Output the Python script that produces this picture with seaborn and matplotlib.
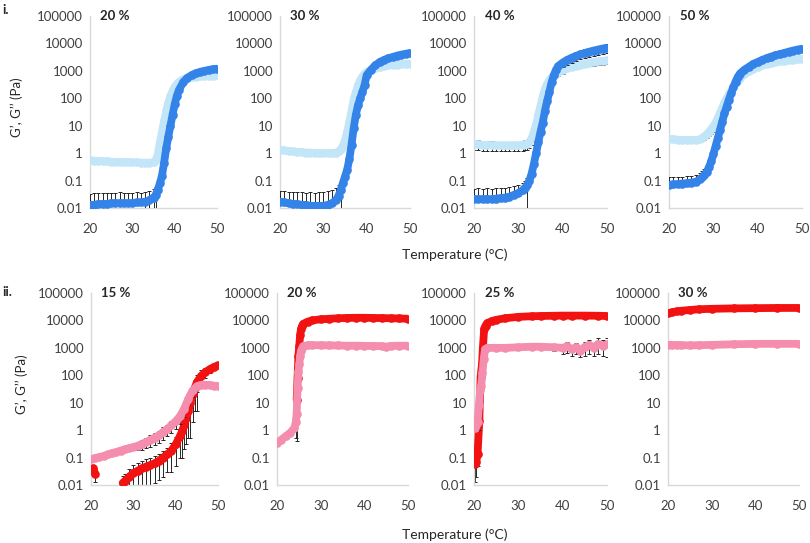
import numpy as np
import matplotlib
matplotlib.use("Agg")
import matplotlib.pyplot as plt
import seaborn as sns

# ---------------- data ----------------
# Row i : blue series (G' dark blue, G'' light blue)
T_i20 = [20,21,22,23,24,25,26,27,28,29,30,31,32,33,34,35,35.5,36,36.5,37,37.5,38,38.5,39,39.5,40,40.5,41,42,43,44,45,46,47,48,49,50]
Gp_i20 = [0.013,0.013,0.014,0.014,0.014,0.015,0.015,0.015,0.015,0.015,0.015,0.016,0.016,0.017,0.019,0.024,
          0.03,0.045,0.08,0.15,0.45,1.5,4,10,25,60,120,200,380,560,700,820,920,1000,1080,1150,1200]
Gp_err_i20 = [0.02,0.021,0.021,0.02,0.022,0.02,0.021,0.022,0.02,0.021,0.02,0.021,0.02,0.02,0.022,0.025,
              0.03,0.03,0.02,0,0,0,0,0,0,0,0,0,0,0,0,0,0,0,0,0,0]
Gp_errlo_i20 = [0,0,0,0,0,0,0,0,0,0,0,0,0,0.017,0.019,0.024,
                0.03,0,0,0,0,0,0,0,0,0,0,0,0,0,0,0,0,0,0,0,0]
Gpp_i20 = [0.55,0.53,0.52,0.5,0.5,0.49,0.48,0.48,0.47,0.47,0.46,0.46,0.45,0.45,0.45,0.46,
           0.55,0.9,2.5,6,15,35,70,120,190,260,330,400,500,560,600,620,640,650,660,670,680]
Gpp_err_i20 = [0,0,0,0,0,0,0,0,0,0,0,0,0,0,0,0,
               0.1,0.3,1,2,4,8,15,25,30,30,30,30,0,0,0,0,0,0,0,0,0]

T_i30 = [20,21,22,23,24,25,26,27,28,29,30,31,32,33,33.5,34,34.5,35,35.5,36,36.5,37,37.5,38,38.5,39,39.5,40,41,42,43,44,45,46,47,48,49,50]
Gp_i30 = [0.017,0.016,0.015,0.014,0.014,0.013,0.013,0.012,0.012,0.012,0.012,0.013,0.015,0.02,
          0.028,0.045,0.08,0.14,0.25,0.6,2,8,25,55,100,170,300,700,
          1100,1600,2100,2500,2900,3200,3600,3900,4200,4500]
Gp_err_i30 = [0.025,0.025,0.024,0.024,0.025,0.024,0.023,0.025,0.024,0.026,0.025,0.027,0.03,0.035,
              0.04,0.045,0.03,0.06,0.1,0.3,1,4,12,25,40,60,80,100,
              0,0,0,0,0,0,0,0,0,0]
Gp_errlo_i30 = [0,0,0,0,0,0,0,0,0,0,0,0,0,0,
                0,0.045,0,0,0,0,0,0,0,0,0,0,0,0,
                0,0,0,0,0,0,0,0,0,0]
Gpp_i30 = [1.3,1.25,1.2,1.15,1.1,1.1,1.05,1.05,1.0,1.0,1.0,1.0,1.0,1.05,
           1.15,1.4,1.8,3,6,14,35,90,170,300,450,620,780,900,
           1100,1250,1400,1500,1600,1650,1700,1750,1800,1850]
Gpp_err_i30 = [0,0,0,0,0,0,0,0,0,0,0,0,0,0,
               0.1,0.3,0.6,1,2,5,12,30,50,80,110,150,180,200,
               0,0,0,0,0,0,0,0,0,0]

T_i40 = [20,21,22,23,24,25,26,27,28,29,30,31,31.5,32,32.5,33,33.5,34,34.5,35,35.5,36,36.5,37,37.5,38,38.5,39,
         40,41,42,43,44,45,46,47,48,49,50]
Gp_i40 = [0.021,0.021,0.021,0.021,0.021,0.022,0.023,0.024,0.026,0.03,0.035,0.045,
          0.055,0.07,0.1,0.18,0.4,1.0,2.5,6,13,35,80,170,380,700,1100,1500,
          2000,2500,3000,3500,4000,4500,5000,5500,6000,6500,7000]
Gp_err_i40 = [0.03,0.032,0.03,0.031,0.03,0.032,0.03,0.031,0.03,0.032,0.035,0.04,
              0.045,0.05,0.06,0.1,0.2,0.4,1,2.5,5,12,30,60,120,200,300,400,
              600,800,1000,1200,1400,1600,1800,2000,2200,2300,2400]
Gp_errlo_i40 = [0,0,0,0,0,0,0,0,0,0,0,0,
                0,0.07,0,0,0,0,0,0,0,0,0,0,0,0,0,0,
                600,800,1000,1200,1400,1600,1800,2000,2200,2300,2400]
Gpp_i40 = [2.2,2.1,2.0,2.0,1.95,1.9,1.9,1.9,1.9,1.9,1.9,2.0,
           2.1,2.2,2.5,3.5,6,11,25,55,120,220,330,450,580,680,780,880,
           1050,1250,1400,1550,1700,1850,2000,2100,2200,2300,2400]
Gpp_err_i40 = [0.9,0.85,0.8,0.8,0.8,0.75,0.75,0.75,0.75,0.75,0.75,0.8,
               0.8,0.85,1,1.5,2.5,5,10,20,40,70,100,130,160,180,200,220,
               260,300,340,380,420,460,500,540,580,620,650]

T_i50 = [20,21,22,23,24,25,26,27,27.5,28,28.5,29,29.5,30,30.5,31,31.5,32,32.5,33,33.5,34,34.5,35,35.5,36,
         37,38,39,40,41,42,43,44,45,46,47,48,49,50]
Gp_i50 = [0.07,0.072,0.075,0.078,0.08,0.085,0.09,0.11,
          0.13,0.16,0.21,0.3,0.5,0.9,1.8,3.5,7,14,28,50,90,150,250,400,600,800,
          1100,1400,1800,2100,2500,2900,3300,3700,4100,4500,5000,5500,6000,6400]
Gp_err_i50 = [0.06,0.06,0.062,0.06,0.065,0.065,0.07,0.08,
              0.09,0.1,0.12,0.15,0.25,0.4,0.7,1.2,2,4,8,15,25,40,60,80,100,120,
              0,0,0,0,0,0,0,0,0,0,0,0,0,0]
Gpp_i50 = [3.3,3.2,3.1,3.0,3.0,3.0,3.0,3.2,
           3.6,4.1,4.8,6,7.5,9.5,13,19,30,45,70,100,140,190,260,350,450,560,
           750,950,1200,1400,1600,1800,1950,2100,2250,2350,2450,2550,2650,2700]
Gpp_errlo_i50 = [0,0,0,0,0,0,0.3,0.5,
                 0.7,1,1.3,1.8,2.5,3.5,5,7,10,15,20,25,30,40,50,60,70,80,
                 0,0,0,0,0,0,0,0,0,0,0,0,0,0]

# Row ii : red (G') / pink (G'') series
T_ii15_pink = [20,21,22,23,24,25,26,27,28,29,30,31,32,33,34,35,36,37,38,39,40,41,42,43,44,45,46,47,48,49,50]
Gpp_ii15 = [0.09,0.095,0.105,0.115,0.13,0.145,0.16,0.18,0.2,0.22,
            0.24,0.27,0.31,0.37,0.44,0.53,0.65,0.85,1.1,1.5,
            2.1,3.2,6,14,28,40,45,45,44,42,41]
Gpp_err_ii15 = [0,0,0,0,0,0,0,0,0,0,
                0.05,0.08,0.12,0.15,0.2,0.25,0.3,0.4,0.5,0.7,
                1,1.5,3,6,12,15,10,5,3,2,2]
T_ii15_red_a = [20.5,21]
Gp_ii15_a = [0.04,0.025]
Gp_err_ii15_a = [0.0,0.012]
T_ii15_red = [27.5,28,29,30,31,32,33,34,35,36,37,38,39,40,41,41.5,42,42.5,43,43.5,44,44.5,45,46,47,48,49,50]
Gp_ii15 = [0.012,0.014,0.02,0.027,0.033,0.04,0.047,0.053,0.062,0.075,0.1,0.13,0.18,0.3,0.6,0.9,1.5,2.8,5,10,20,35,55,95,130,165,200,230]
Gp_err_ii15 = [0.01,0.012,0.018,0.025,0.03,0.035,0.04,0.045,0.05,0.06,0.08,0.1,0.15,0.25,0.5,0.8,1.3,2.5,4.5,9.5,18,30,50,60,50,40,30,20]

T_ii20_pink = [20,21,22,23,24,24.3,24.5,24.7,24.9,25.1,25.3,25.5,25.8,26,27,28,30,32,34,36,38,40,42,44,45,46,48,50]
Gpp_ii20 = [0.34,0.45,0.6,0.8,1.2,2.0,4,35,130,250,500,800,1000,1150,
            1250,1250,1250,1230,1220,1200,1200,1180,1170,1160,1100,1180,1200,1200]
Gpp_err_ii20 = [0,0,0,0,0,1.5,3.6,25,0,0,0,0,0,0,0,0,0,0,0,0,0,0,0,0,0,0,0,0]
T_ii20_red = [24.5,24.7,24.9,25.1,25.3,25.5,25.8,26,27,28,30,32,34,36,38,40,42,44,46,48,50]
Gp_ii20 = [13,80,500,1200,3000,5000,6500,7500,9000,10000,11000,11500,12000,12300,12500,12500,12300,12200,12000,11800,11500]
Gp_err_ii20 = [2,20,300,600,800,1000,800,600,0,0,0,0,0,0,0,0,0,0,0,0,0]

T_ii25_red = [20.3,20.5,20.8,21.2,21.5,21.8,22,22.3,22.6,23,24,25,27,30,33,35,38,40,42,45,48,50]
Gp_ii25 = [0.06,0.07,0.13,2.2,90,250,1000,5000,6500,8000,9500,10500,12000,13500,14200,14500,14800,15000,15000,15000,14800,14500]
Gp_err_ii25 = [0.047,0.05,0.08,0.5,20,50,800,2500,1500,1000,0,0,0,0,0,0,0,0,0,0,0,0]
T_ii25_pink = [20.2,20.5,20.8,21.1,21.4,21.6,21.9,22.2,22.5,23,25,27,30,33,35,38,40,41,42,43,44,45,46,47,48,49,50]
Gpp_ii25 = [1.2,1.5,1.9,8,30,40,120,400,900,1000,1000,1000,1050,1100,1100,1050,1000,1150,900,1050,800,1100,1300,1000,1400,1200,1350]
Gpp_err_ii25 = [0,0,0,7,10,20,0,0,0,0,0,0,0,200,250,300,400,500,400,450,350,600,700,500,800,700,900]

T_ii30 = [20,21,22,23,25,27,30,35,40,45,50]
Gp_ii30 = [18000,20000,21500,22500,24000,25500,26500,27500,28000,28500,28500]
Gpp_ii30 = [1300,1280,1250,1250,1230,1250,1280,1350,1400,1400,1400]

panel_titles_i = ["20 %", "30 %", "40 %", "50 %"]
panel_titles_ii = ["15 %", "20 %", "25 %", "30 %"]
y_ticks = [0.01, 0.1, 1, 10, 100, 1000, 10000, 100000]
y_tick_labels = ["0.01", "0.1", "1", "10", "100", "1000", "10000", "100000"]
x_ticks = [20, 30, 40, 50]

# ---------------- style ----------------
sns.set_style("white")
plt.rcParams["font.family"] = ["Lato", "DejaVu Sans"]

C_DBLUE = "#3483E8"
C_LBLUE = "#C2E5F8"
C_RED = "#F21212"
C_PINK = "#F48DAE"
C_ERR = "#262626"
TXT = "#404040"

W, H = 810, 543
fig = plt.figure(figsize=(W / 100, H / 100), dpi=100)

def ax_at(x0, x1, ytop, ybot):
    return fig.add_axes([x0 / W, 1 - ybot / H, (x1 - x0) / W, (ybot - ytop) / H])

pos_i = [(90, 217), (280, 410), (474, 607), (669, 802)]
pos_ii = [(91, 218), (277, 408), (474, 607), (668, 799)]

LW = 5.6
MS = 6.2

def series(ax, T, G, color, err_up=None, err_dn=None, z=3):
    if err_up is not None or err_dn is not None:
        up = err_up if err_up is not None else [0] * len(T)
        dn = err_dn if err_dn is not None else [0] * len(T)
        ax.errorbar(T, G, yerr=[dn, up], fmt="none", ecolor=C_ERR, elinewidth=0.7,
                    capsize=1.6, capthick=0.7, zorder=z - 1)
    sns.lineplot(x=T, y=G, ax=ax, color=color, linewidth=LW, marker="o",
                 markersize=MS, markeredgewidth=0, solid_capstyle="round",
                 errorbar=None, zorder=z)

def style_axis(ax, title):
    ax.set_yscale("log")
    ax.set_ylim(0.01, 100000)
    ax.set_xlim(20, 50)
    ax.set_yticks(y_ticks)
    ax.set_yticklabels(y_tick_labels)
    ax.minorticks_off()
    ax.set_xticks(x_ticks)
    ax.set_xticklabels([str(t) for t in x_ticks])
    ax.tick_params(axis="both", length=0, labelsize=9.5, colors=TXT)
    ax.tick_params(axis="x", pad=11)
    ax.tick_params(axis="y", pad=5)
    for s in ["top", "right"]:
        ax.spines[s].set_visible(False)
    for s in ["left", "bottom"]:
        ax.spines[s].set_color("#D9D9D9")
        ax.spines[s].set_linewidth(1.0)
    ax.set_xlabel("")
    ax.set_ylabel("")
    ax.patch.set_alpha(0)
    ax.text(0.08, 1.0, title, transform=ax.transAxes, fontsize=9.5,
            fontweight="bold", color="#262626", va="center", ha="left")

# Row i
ax = ax_at(pos_i[0][0], pos_i[0][1], 16, 208)
series(ax, T_i20, Gpp_i20, C_LBLUE, Gpp_err_i20, None, z=3)
series(ax, T_i20, Gp_i20, C_DBLUE, Gp_err_i20, Gp_errlo_i20, z=5)
style_axis(ax, panel_titles_i[0])

ax = ax_at(pos_i[1][0], pos_i[1][1], 16, 208)
series(ax, T_i30, Gpp_i30, C_LBLUE, Gpp_err_i30, None, z=3)
series(ax, T_i30, Gp_i30, C_DBLUE, Gp_err_i30, Gp_errlo_i30, z=5)
style_axis(ax, panel_titles_i[1])

ax = ax_at(pos_i[2][0], pos_i[2][1], 16, 208)
series(ax, T_i40, Gpp_i40, C_LBLUE, Gpp_err_i40, Gpp_err_i40, z=3)
series(ax, T_i40, Gp_i40, C_DBLUE, Gp_err_i40, Gp_errlo_i40, z=5)
style_axis(ax, panel_titles_i[2])

ax = ax_at(pos_i[3][0], pos_i[3][1], 16, 208)
series(ax, T_i50, Gpp_i50, C_LBLUE, None, Gpp_errlo_i50, z=3)
series(ax, T_i50, Gp_i50, C_DBLUE, Gp_err_i50, None, z=5)
style_axis(ax, panel_titles_i[3])

# Row ii
ax = ax_at(pos_ii[0][0], pos_ii[0][1], 293, 485)
series(ax, T_ii15_pink, Gpp_ii15, C_PINK, Gpp_err_ii15, Gpp_err_ii15, z=5)
series(ax, T_ii15_red_a, Gp_ii15_a, C_RED, Gp_err_ii15_a, Gp_err_ii15_a, z=3)
series(ax, T_ii15_red, Gp_ii15, C_RED, Gp_err_ii15, Gp_err_ii15, z=3)
style_axis(ax, panel_titles_ii[0])

ax = ax_at(pos_ii[1][0], pos_ii[1][1], 293, 485)
series(ax, T_ii20_red, Gp_ii20, C_RED, Gp_err_ii20, Gp_err_ii20, z=3)
series(ax, T_ii20_pink, Gpp_ii20, C_PINK, Gpp_err_ii20, Gpp_err_ii20, z=5)
style_axis(ax, panel_titles_ii[1])

ax = ax_at(pos_ii[2][0], pos_ii[2][1], 293, 485)
series(ax, T_ii25_red, Gp_ii25, C_RED, Gp_err_ii25, Gp_err_ii25, z=3)
series(ax, T_ii25_pink, Gpp_ii25, C_PINK, Gpp_err_ii25, Gpp_err_ii25, z=5)
style_axis(ax, panel_titles_ii[2])

ax = ax_at(pos_ii[3][0], pos_ii[3][1], 293, 485)
series(ax, T_ii30, Gp_ii30, C_RED, None, None, z=3)
series(ax, T_ii30, Gpp_ii30, C_PINK, None, None, z=5)
style_axis(ax, panel_titles_ii[3])

# Figure-level labels
fig.text(455 / W, 1 - 255 / H, "Temperature (°C)", ha="center", va="center",
         fontsize=10, color="#262626")
fig.text(455 / W, 1 - 535 / H, "Temperature (°C)", ha="center", va="center",
         fontsize=10, color="#262626")
fig.text(17 / W, 1 - 107 / H, "G’, G’’ (Pa)", rotation=90, ha="center",
         va="center", fontsize=9.5, color="#262626")
fig.text(22 / W, 1 - 384 / H, "G’, G’’ (Pa)", rotation=90, ha="center",
         va="center", fontsize=9.5, color="#262626")
fig.text(2 / W, 1 - 10 / H, "i.", ha="left", va="center", fontsize=9.5,
         fontweight="bold", color="#262626")
fig.text(2 / W, 1 - 292 / H, "ii.", ha="left", va="center", fontsize=9.5,
         fontweight="bold", color="#262626")

fig.savefig("out.png", dpi=100)
